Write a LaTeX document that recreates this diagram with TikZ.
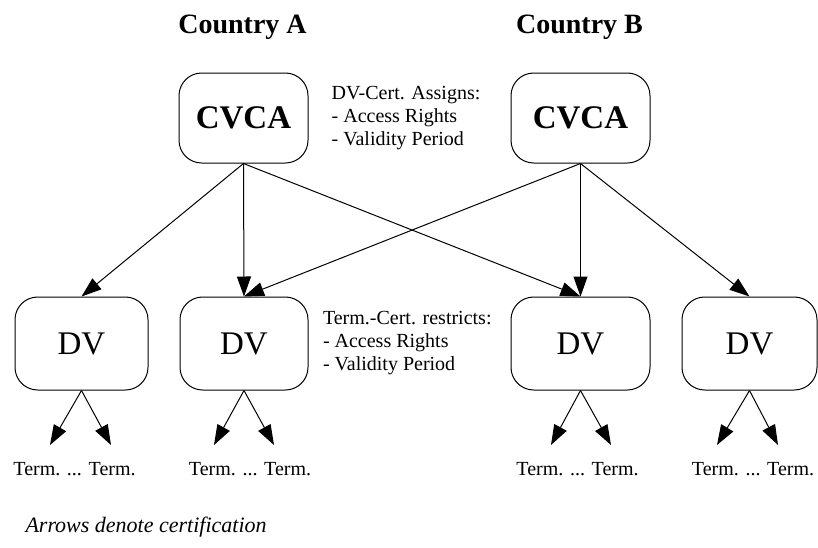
\documentclass[tikz,border=0pt]{standalone}
\usepackage{fontspec}
\setmainfont{Liberation Serif}
\usetikzlibrary{
  arrows.meta,
  positioning
}

\begin{document}
\begin{tikzpicture}[
  x=0.75pt, y=-0.75pt,
  line width=0.75pt,
  authority/.style={
    draw,
    rounded corners=17pt,
    minimum height=67.5pt,
    font=\fontsize{24.75}{28}\selectfont\bfseries
  },
  verifier/.style={
    draw,
    rounded corners=17pt,
    minimum height=69.75pt,
    font=\fontsize{24.75}{28}\selectfont
  },
  note/.style={
    inner sep=0pt,
    align=left,
    font=\fontsize{15}{17.25}\selectfont
  },
  terminals/.style={
    inner sep=0pt,
    anchor=base,
    font=\fontsize{15}{17}\selectfont
  },
  cert/.style={-{Triangle[length=15pt,width=10.5pt]}}
]
\useasboundingbox (0,0) rectangle (818,547);

\node [anchor=base, font=\fontsize{21}{24}\selectfont\bfseries] (country-a) at (242.5,33) {Country A};
\node [anchor=base, font=\fontsize{21}{24}\selectfont\bfseries] (country-b) at (579.5,33) {Country B};

\node [authority, minimum width=96.75pt] (cvca-a) at (243.5,118) {CVCA};
\node [authority, minimum width=104.25pt] (cvca-b) at (580.5,118) {CVCA};
\node [note, right=17pt of cvca-a] (dv-cert-note) {DV-Cert. Assigns:\\- Access Rights\\- Validity Period};

\node [verifier, minimum width=99.75pt] (dv-1) at (81.5,343.5) {DV};
\node [verifier, minimum width=96pt] (dv-2) at (244,343.5) {DV};
\node [verifier, minimum width=104.25pt] (dv-3) at (580.5,343.5) {DV};
\node [verifier, minimum width=101.25pt] (dv-4) at (749.5,343.5) {DV};
\node [note, right=10.5pt of dv-2] (term-cert-note) {Term.-Cert. restricts:\\- Access Rights\\- Validity Period};

\draw [cert] (cvca-a.south) -- (dv-1.north);
\draw [cert] (cvca-a.south) -- (dv-2.north);
\draw [cert] (cvca-a.south) -- (dv-3.north);
\draw [cert] (cvca-b.south) -- (dv-2.north);
\draw [cert] (cvca-b.south) -- (dv-3.north);
\draw [cert] (cvca-b.south) -- (dv-4.north);

% terminals below each DV
\coordinate (tip-1-l) at (50,445);  \coordinate (tip-1-r) at (111,445);
\coordinate (tip-2-l) at (214,445); \coordinate (tip-2-r) at (274,445);
\coordinate (tip-3-l) at (551,445); \coordinate (tip-3-r) at (611,445);
\coordinate (tip-4-l) at (717,445); \coordinate (tip-4-r) at (778,445);
\foreach \i in {1,...,4} {
  \draw [cert] (dv-\i.south) -- (tip-\i-l);
  \draw [cert] (dv-\i.south) -- (tip-\i-r);
}
\node [terminals] (term-1) at (74.5,475) {Term. ... Term.};
\node [terminals] (term-2) at (250,475) {Term. ... Term.};
\node [terminals] (term-3) at (577.5,475) {Term. ... Term.};
\node [terminals] (term-4) at (753,475) {Term. ... Term.};

\node [anchor=base west, inner sep=0pt, font=\fontsize{16.5}{19}\selectfont\itshape] (legend) at (25,532) {Arrows denote certification};
\end{tikzpicture}
\end{document}
